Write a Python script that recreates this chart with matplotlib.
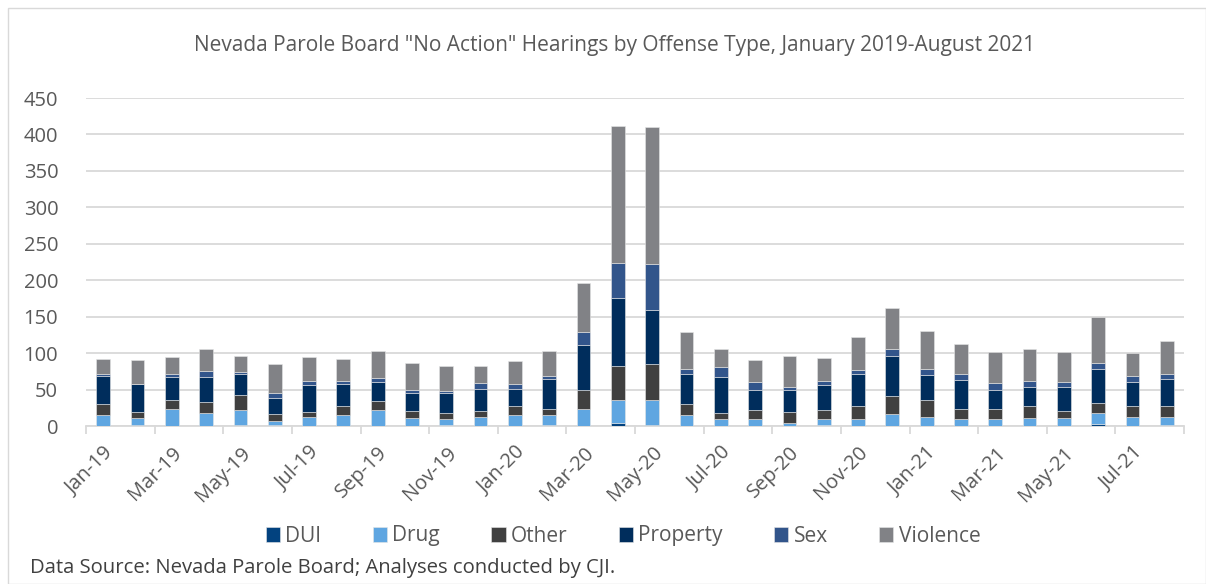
import matplotlib
matplotlib.use("Agg")
import matplotlib.pyplot as plt
import numpy as np
from matplotlib.patches import Rectangle

plt.rcParams['font.family'] = ['Open Sans', 'DejaVu Sans']

months = ["Jan-19","Feb-19","Mar-19","Apr-19","May-19","Jun-19","Jul-19","Aug-19",
          "Sep-19","Oct-19","Nov-19","Dec-19","Jan-20","Feb-20","Mar-20","Apr-20",
          "May-20","Jun-20","Jul-20","Aug-20","Sep-20","Oct-20","Nov-20","Dec-20",
          "Jan-21","Feb-21","Mar-21","Apr-21","May-21","Jun-21","Jul-21","Aug-21"]

dui      = [0, 1, 0, 0, 1, 1, 0, 0, 0, 0, 2, 0, 0, 2, 0, 4, 1, 0, 0, 0, 0, 2, 0, 0, 0, 0, 0, 0, 0, 3, 0, 1]
drug     = [15,10,24,18,21, 6,12,15,22,11, 8,12,15,13,23,32,35,15,10, 9, 4, 7, 9,16,12,10, 9,11,11,15,12,12]
other    = [15, 8,12,15,20,10, 7,12,12, 9, 8, 9,12, 9,26,46,49,15, 8,13,15,13,19,25,24,14,15,16,10,14,16,14]
property_= [38,38,31,34,29,21,37,30,26,25,27,30,24,41,62,94,74,41,49,28,31,34,43,55,34,39,26,27,32,46,32,38]
sex      = [ 3, 1, 4, 8, 3, 7, 6, 5, 6, 5, 3, 8, 7, 4,18,47,63, 7,14,10, 4, 6, 6, 9, 8, 8, 9, 8, 7, 8, 8, 7]
violence = [21,32,24,30,22,40,33,30,37,36,34,23,31,34,67,188,188,51,24,31,42,31,45,57,53,42,42,43,42,64,32,44]

series_names = ["DUI", "Drug", "Other", "Property", "Sex", "Violence"]
series = [dui, drug, other, property_, sex, violence]
colors = ["#02427F", "#5FA6E1", "#404040", "#002D5C", "#32558B", "#818286"]

W, H = 1206, 584
fig = plt.figure(figsize=(W/100, H/100), dpi=100)

# outer chart border
fig.patches.append(Rectangle((8/W, 0), 1 - 8/W - 0.5/W, 1 - 8/H, transform=fig.transFigure,
                             fill=False, edgecolor="#D9D9D9", linewidth=1.0))

left, right, top, bottom = 86, 1184, 98, 426
ax = fig.add_axes([left/W, 1 - bottom/H, (right-left)/W, (bottom-top)/H])

x = np.arange(len(months))
base = np.zeros(len(months))
handles = []
for name, vals, c in zip(series_names, series, colors):
    v = np.array(vals, dtype=float)
    b = ax.bar(x, v, width=0.4, bottom=base, color=c, edgecolor="#E6E6E6",
               linewidth=0.4, label=name, zorder=3)
    handles.append(b)
    base += v

ax.set_xlim(-0.5, len(months) - 0.5)
ax.set_ylim(0, 450)
ax.set_yticks(np.arange(0, 451, 50))
ax.yaxis.grid(True, color="#D9D9D9", linewidth=1.3, zorder=0)
ax.set_axisbelow(True)
for s in ["top", "right", "left"]:
    ax.spines[s].set_visible(False)
ax.spines["bottom"].set_color("#D9D9D9")
ax.spines["bottom"].set_linewidth(1.3)
ax.tick_params(axis="y", length=0, pad=20, labelsize=14.5, labelcolor="#595959")

# tick marks at every other category boundary
ax.set_xticks(np.arange(-0.5, len(months), 2))
ax.set_xticklabels([])
ax.tick_params(axis="x", which="major", length=6, width=1.3, color="#D9D9D9", direction="out")
ax.set_xticks(x[::2], minor=True)
ax.set_xticklabels(months[::2], minor=True, rotation=45, ha="right",
                   rotation_mode="anchor", fontsize=14.5, color="#595959")
ax.tick_params(axis="x", which="minor", length=0, pad=12)

fig.text(615/W, 1 - 45/H, 'Nevada Parole Board "No Action" Hearings by Offense Type, January 2019-August 2021',
         ha="center", va="center", fontsize=15, color="#595959")

leg = fig.legend(handles=handles, labels=series_names, loc="center", ncol=6,
                 bbox_to_anchor=(623/W, 1 - 536/H), frameon=False, fontsize=15,
                 handlelength=0.7, handleheight=0.7, handletextpad=0.25,
                 columnspacing=2.45, labelcolor="#595959")

fig.text(30/W, 1 - 568/H, "Data Source: Nevada Parole Board; Analyses conducted by CJI.",
         ha="left", va="center", fontsize=14.6, color="#404040")

fig.savefig("out.png", dpi=100)
